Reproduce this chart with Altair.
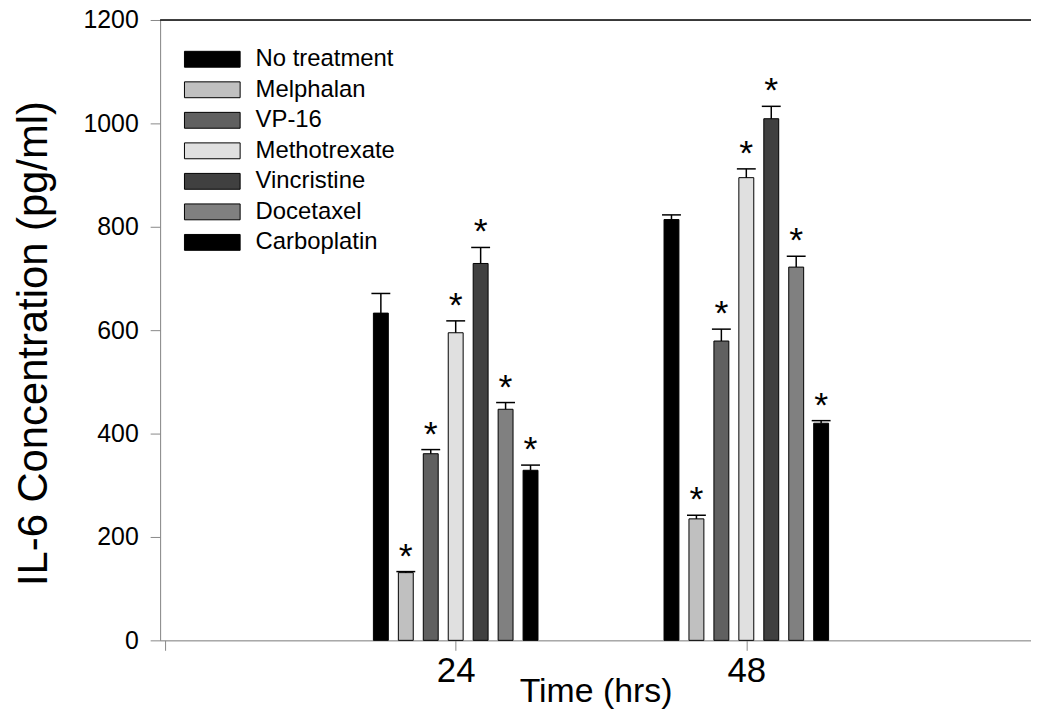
import altair as alt
import pandas as pd

times = [24, 48]
treatments = ["No treatment", "Melphalan", "VP-16", "Methotrexate",
              "Vincristine", "Docetaxel", "Carboplatin"]
grays = ["#000000", "#c0c0c0", "#606060", "#e0e0e0", "#404040", "#808080", "#000000"]

means_24 = [633, 131, 361, 595, 729, 447, 329]
errs_24 = [38, 2, 8, 23, 31, 13, 10]
sig_24 = ["", "*", "*", "*", "*", "*", "*"]

means_48 = [814, 235, 579, 895, 1009, 722, 420]
errs_48 = [9, 7, 23, 17, 24, 21, 5]
sig_48 = ["", "*", "*", "*", "*", "*", "*"]

y_ticks = [0, 200, 400, 600, 800, 1000, 1200]
x_ticks = [0, 24, 48]

rows = []
for t, means, errs, sigs in [(24, means_24, errs_24, sig_24), (48, means_48, errs_48, sig_48)]:
    for i, name in enumerate(treatments):
        rows.append({"time": t, "treatment": name, "slot": i,
                     "value": means[i], "top": means[i] + errs[i], "sig": sigs[i]})
df = pd.DataFrame(rows)

W, H = 876, 624
FONT = "Liberation Sans"

base = alt.Chart(df).transform_calculate(
    xpos="datum.time + (datum.slot - 3) * 2.06"
)

xenc = alt.X("xpos:Q",
             scale=alt.Scale(domain=[0, 71.1], nice=False, zero=True),
             axis=alt.Axis(values=x_ticks, title="Time (hrs)",
                           labelExpr="datum.value == 0 ? '' : datum.label",
                           labelFont=FONT, labelFontSize=35, labelPadding=3,
                           titleFont=FONT, titleFontSize=34, titleFontWeight="normal",
                           titleY=62, titleBaseline="alphabetic",
                           tickSize=10, grid=False))
yscale = alt.Scale(domain=[0, 1200], nice=False)
yaxis = alt.Axis(values=y_ticks, title="IL-6 Concentration (pg/ml)", format="d",
                 labelFont=FONT, labelFontSize=25, labelPadding=12,
                 titleFont=FONT, titleFontSize=42, titleFontWeight="normal",
                 titleX=-127, titleY=325, titleBaseline="middle", titleAlign="center",
                 tickSize=10, grid=False)

# wide flat swatch: path spans 4 units wide in a symbol whose nominal size is 28px
rect_path = "M-2,-0.57H2V0.57H-2Z"

bars = base.mark_bar(size=15, stroke="black", strokeWidth=1).encode(
    x=xenc,
    y=alt.Y("value:Q", scale=yscale, axis=yaxis, stack=None),
    color=alt.Color("treatment:N",
                    scale=alt.Scale(domain=treatments, range=grays),
                    sort=treatments,
                    legend=alt.Legend(title=None, orient="none", legendX=38, legendY=25,
                                      symbolType=rect_path, symbolSize=784,
                                      symbolStrokeColor="black", symbolStrokeWidth=1,
                                      symbolOpacity=1,
                                      labelFont=FONT, labelFontSize=24, labelOffset=29,
                                      rowPadding=3.7, labelLimit=400)),
)

err_line = base.mark_rule(color="black", strokeWidth=1.5).encode(
    x="xpos:Q", y=alt.Y("value:Q"), y2="top:Q")

err_cap = base.mark_rule(color="black", strokeWidth=1.5, xOffset=-9.5, x2Offset=9.5).encode(
    x="xpos:Q", x2="xpos:Q", y=alt.Y("top:Q"))

stars = base.mark_text(fontSize=36, font=FONT, color="black", baseline="alphabetic",
                       align="center", dy=-4).encode(
    x="xpos:Q", y=alt.Y("top:Q"), text="sig:N")

top_line = alt.Chart(pd.DataFrame({"v": [1200]})).mark_rule(color="black", strokeWidth=1.5).encode(
    y=alt.Y("v:Q", scale=yscale), x=alt.value(0), x2=alt.value(W))

chart = alt.layer(bars, err_line, err_cap, stars, top_line).properties(
    width=W, height=H,
    autosize=alt.AutoSizeParams(type="none"),
    padding={"left": 153, "top": 10, "right": 0, "bottom": 69},
).configure_view(stroke=None).configure_axis(
    domainColor="black", domainWidth=1.5, tickColor="black", tickWidth=1.5,
    labelColor="black", titleColor="black"
).configure(background="white")

chart.save("out.html", embed_options={"renderer": "svg", "actions": False})
